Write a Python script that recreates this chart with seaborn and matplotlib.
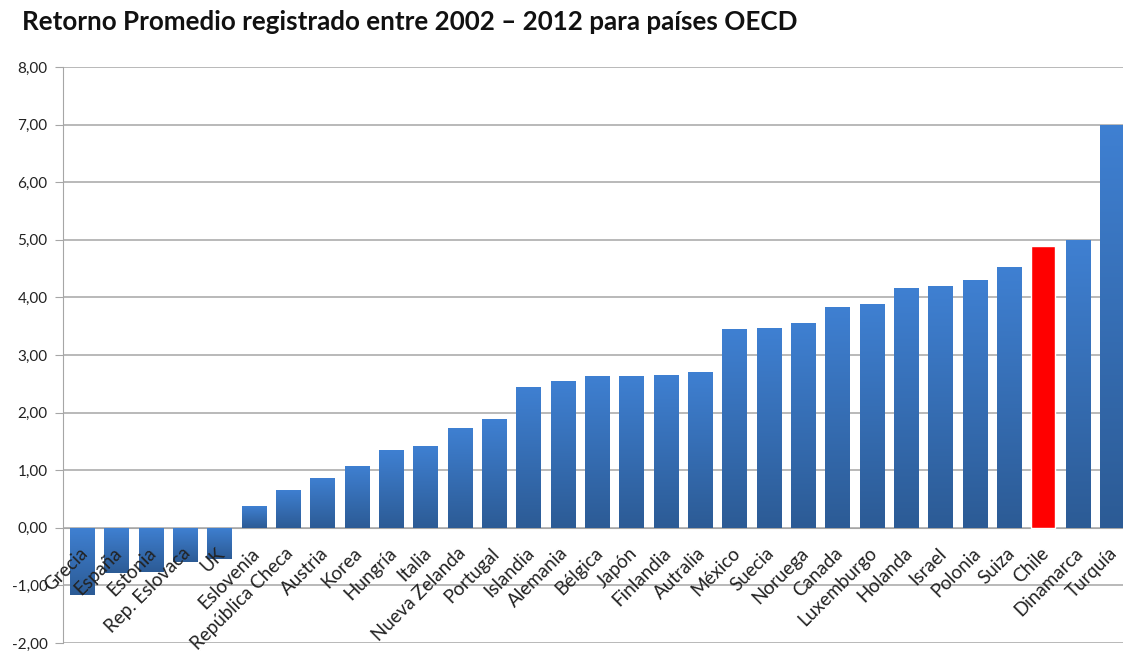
import matplotlib
matplotlib.use('Agg')
import matplotlib.pyplot as plt
from matplotlib.ticker import FixedLocator, FuncFormatter
from matplotlib.transforms import ScaledTranslation
import numpy as np
import pandas as pd
import seaborn as sns

TITLE = 'Retorno Promedio registrado entre 2002 – 2012 para países OECD'

countries = ['Grecia', 'España', 'Estonia', 'Rep. Eslovaca', 'UK', 'Eslovenia',
             'República Checa', 'Austria', 'Korea', 'Hungría', 'Italia',
             'Nueva Zelanda', 'Portugal', 'Islandia', 'Alemania', 'Bélgica',
             'Japón', 'Finlandia', 'Autralia', 'México', 'Suecia', 'Noruega',
             'Canada', 'Luxemburgo', 'Holanda', 'Israel', 'Polonia', 'Suiza',
             'Chile', 'Dinamarca', 'Turquía']
returns = [-1.16, -0.78, -0.77, -0.59, -0.55, 0.38, 0.66, 0.87, 1.08, 1.35, 1.42,
           1.74, 1.89, 2.45, 2.55, 2.64, 2.64, 2.66, 2.71, 3.45, 3.47, 3.56,
           3.84, 3.89, 4.17, 4.20, 4.31, 4.53, 4.89, 5.00, 7.00]
highlight = 'Chile'
y_ticks = [-2, -1, 0, 1, 2, 3, 4, 5, 6, 7, 8]

df = pd.DataFrame({'pais': countries, 'retorno': returns})

sns.set_style('white')
plt.rcParams['font.family'] = ['Lato', 'DejaVu Sans']

fig = plt.figure(figsize=(11.23, 6.56), dpi=100)
ax = fig.add_axes([63 / 1123, 1 - 643 / 656, 1 - 63 / 1123 + 0.01, (643 - 67) / 656])

sns.barplot(data=df, x='pais', y='retorno', color='#3a76c2', width=0.7,
            saturation=1, ax=ax, zorder=3)

# vertical gradient fill, light at the top, dark at the bottom
grad = np.linspace(0, 1, 256).reshape(-1, 1)
blue_cmap = matplotlib.colors.LinearSegmentedColormap.from_list(
    'bar', ['#3f80d2', '#2c5b95'])
for patch, name in zip(ax.patches, df.pais):
    if name == highlight:
        patch.set_facecolor('#ff0000')
        continue
    x0, y0 = patch.get_x(), patch.get_y()
    w, h = patch.get_width(), patch.get_height()
    top, bottom = max(y0, y0 + h), min(y0, y0 + h)
    patch.set_facecolor('none')
    patch.set_edgecolor('none')
    im = ax.imshow(grad, cmap=blue_cmap, aspect='auto', zorder=3,
                   extent=[x0, x0 + w, bottom, top], origin='upper')
    im.set_clip_path(patch)

ax.set_xlim(-0.55, 30.65)
ax.set_ylim(-2, 8)
ax.yaxis.set_major_locator(FixedLocator(y_ticks))
ax.yaxis.set_major_formatter(FuncFormatter(lambda v, _: f'{v:.2f}'.replace('.', ',')))
ax.grid(axis='y', color='#a6a6a6', linewidth=1.1, zorder=0)
ax.set_axisbelow(True)

# category axis sits on the zero line
ax.spines['bottom'].set_position(('data', 0))
ax.spines['bottom'].set_color('#a6a6a6')
ax.spines['bottom'].set_zorder(2)
ax.spines['left'].set_color('#a6a6a6')
ax.spines['top'].set_visible(False)
ax.spines['right'].set_visible(False)

n = len(countries)
ax.set_xticks(np.arange(n))
ax.set_xticklabels(countries, rotation=45, ha='right', rotation_mode='anchor',
                   fontsize=13.5, color='#222222')
ax.set_xticks(np.arange(n + 1) - 0.5, minor=True)
ax.tick_params(axis='x', which='major', length=0, pad=12)
ax.tick_params(axis='x', which='minor', length=5, color='#a6a6a6', direction='out')
ax.tick_params(axis='y', length=6, color='#a6a6a6', labelsize=11,
               labelcolor='#222222', pad=5, left=True)
ax.xaxis.set_zorder(4)
shift = ScaledTranslation(-3 / 100, 0, fig.dpi_scale_trans)
for lab in ax.get_xticklabels():
    lab.set_transform(lab.get_transform() + shift)
ax.set_xlabel('')
ax.set_ylabel('')

fig.text(22 / 1123, 1 - 22 / 656, TITLE, fontsize=18.7, fontweight='bold',
         va='center', ha='left', color='#111111')

fig.savefig('out.png', dpi=100)
